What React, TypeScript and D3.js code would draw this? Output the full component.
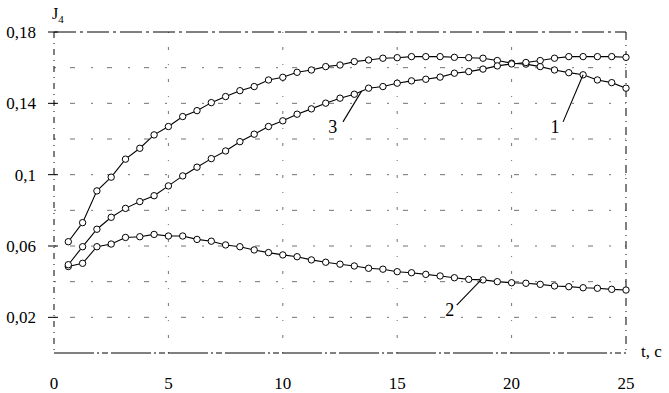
import React from "react";
import * as d3 from "d3";

// time, s
const tValues = [
  0.625, 1.25, 1.875, 2.5, 3.125, 3.75, 4.375, 5, 5.625, 6.25,
  6.875, 7.5, 8.125, 8.75, 9.375, 10, 10.625, 11.25, 11.875, 12.5,
  13.125, 13.75, 14.375, 15, 15.625, 16.25, 16.875, 17.5, 18.125, 18.75,
  19.375, 20, 20.625, 21.25, 21.875, 22.5, 23.125, 23.75, 24.375, 25,
];

const curve1 = [
  0.0624, 0.0731, 0.0909, 0.0986, 0.1087, 0.1148, 0.1223, 0.127, 0.1326, 0.1359,
  0.1404, 0.1438, 0.1471, 0.1494, 0.1531, 0.1546, 0.1574, 0.1587, 0.1606, 0.1615,
  0.1634, 0.1643, 0.1653, 0.1656, 0.1662, 0.1662, 0.1662, 0.1658, 0.1656, 0.1653,
  0.164, 0.1625, 0.162, 0.1606, 0.1587, 0.1572, 0.156, 0.1531, 0.1516, 0.1485,
];

const curve2 = [
  0.0485, 0.0503, 0.0596, 0.0611, 0.0648, 0.0652, 0.0665, 0.0656, 0.0656, 0.0637,
  0.0627, 0.0606, 0.0596, 0.0578, 0.0563, 0.055, 0.054, 0.0522, 0.0509, 0.0498,
  0.0488, 0.0475, 0.047, 0.0456, 0.045, 0.0441, 0.0432, 0.0422, 0.0413, 0.041,
  0.04, 0.0394, 0.0391, 0.0385, 0.0376, 0.0372, 0.0366, 0.0363, 0.0357, 0.0353,
];

const curve3 = [
  0.0495, 0.0596, 0.0694, 0.0761, 0.0811, 0.0849, 0.0882, 0.0937, 0.0993, 0.1042,
  0.109, 0.1133, 0.1185, 0.1227, 0.127, 0.1302, 0.1339, 0.1369, 0.1401, 0.1429,
  0.1451, 0.1485, 0.1494, 0.1513, 0.1526, 0.1535, 0.1547, 0.1569, 0.1578, 0.1592,
  0.161, 0.1621, 0.1629, 0.164, 0.1653, 0.1662, 0.1662, 0.1662, 0.1662, 0.1658,
];

const yTickLabels = ["0,02", "0,06", "0,1", "0,14", "0,18"];
const yTickValues = [0.02, 0.06, 0.1, 0.14, 0.18];
const xTickValues = [0, 5, 10, 15, 20, 25];
const gridY = [0.02, 0.04, 0.06, 0.08, 0.1, 0.12, 0.14, 0.16];
const gridX = [5, 10, 15, 20];

// curve numbers with leader lines (data coords)
const labels = [
  { text: "1", t: 21.9, v: 0.1235, from: [22.25, 0.1296], to: [23.125, 0.156] },
  { text: "3", t: 12.18, v: 0.1235, from: [12.63, 0.1296], to: [13.45, 0.147] },
  { text: "2", t: 17.3, v: 0.0205, from: [17.6, 0.0269], to: [18.69, 0.0413] },
];

const W = 669;
const H = 393;
const font = "'Liberation Serif', 'DejaVu Serif', serif";

export default function App() {
  const x = d3.scaleLinear().domain([0, 25]).range([54, 626]);
  const y = d3.scaleLinear().domain([0, 0.18]).range([353, 32]);

  const line = d3
    .line<number>()
    .x((_, i) => x(tValues[i]))
    .y((d) => y(d));

  const series = [curve1, curve2, curve3];

  return (
    <svg
      width={W}
      height={H}
      style={{ position: "absolute", left: 0, top: 0, background: "#fff" }}
    >
      {/* grid, faint broken lines like the scan */}
      {gridY.map((g) => (
        <line
          key={"gy" + g}
          x1={x(0)}
          x2={x(25)}
          y1={y(g)}
          y2={y(g)}
          stroke="#000"
          strokeWidth={1}
          strokeDasharray="2 14 5 16"
          opacity={0.55}
        />
      ))}
      {gridX.map((g) => (
        <line
          key={"gx" + g}
          x1={x(g)}
          x2={x(g)}
          y1={y(0.18)}
          y2={y(0)}
          stroke="#000"
          strokeWidth={1}
          strokeDasharray="1 14 3 14"
          opacity={0.55}
        />
      ))}
      {/* frame */}
      <line x1={x(0)} x2={x(25)} y1={y(0.18)} y2={y(0.18)} stroke="#000" strokeDasharray="22 4 3 4" />
      <line x1={x(0)} x2={x(25)} y1={y(0)} y2={y(0)} stroke="#000" strokeDasharray="40 3 2 3 6 3" />
      <line x1={x(25)} x2={x(25)} y1={y(0.18)} y2={y(0)} stroke="#000" strokeDasharray="8 5 1 5" />
      <line x1={x(0)} x2={x(0)} y1={y(0.18)} y2={y(0)} stroke="#000" strokeDasharray="6 5 1 5" />
      {yTickValues.map((v) => (
        <line key={"tk" + v} x1={x(0) - 6} x2={x(0) + 4} y1={y(v)} y2={y(v)} stroke="#000" />
      ))}

      {/* curves */}
      {series.map((s, k) => (
        <g key={"s" + k}>
          <path d={line(s) ?? ""} fill="none" stroke="#000" strokeWidth={1.1} />
          {s.map((v, i) => (
            <circle
              key={i}
              cx={x(tValues[i])}
              cy={y(v)}
              r={3.2}
              fill="#fff"
              stroke="#000"
              strokeWidth={1}
            />
          ))}
        </g>
      ))}

      {/* curve numbers */}
      {labels.map((l) => (
        <g key={"l" + l.text}>
          <line
            x1={x(l.from[0])}
            y1={y(l.from[1])}
            x2={x(l.to[0])}
            y2={y(l.to[1])}
            stroke="#000"
            strokeWidth={1.1}
          />
          <text x={x(l.t)} y={y(l.v)} fontFamily={font} fontSize={18} textAnchor="middle">
            {l.text}
          </text>
        </g>
      ))}

      {/* y tick labels */}
      {yTickValues.map((v, i) => (
        <text
          key={"yl" + v}
          x={36}
          y={y(v) + 6}
          fontFamily={font}
          fontSize={17}
          textAnchor="end"
        >
          {yTickLabels[i]}
        </text>
      ))}
      {/* x tick labels */}
      {xTickValues.map((v) => (
        <text
          key={"xl" + v}
          x={x(v)}
          y={389}
          fontFamily={font}
          fontSize={17}
          textAnchor="middle"
        >
          {v}
        </text>
      ))}

      {/* axis titles */}
      <text x={52} y={19} fontFamily={font} fontSize={16}>
        J<tspan fontSize={11} dy={4}>4</tspan>
      </text>
      <text x={641} y={357} fontFamily={font} fontSize={17}>
        t, c
      </text>
    </svg>
  );
}
